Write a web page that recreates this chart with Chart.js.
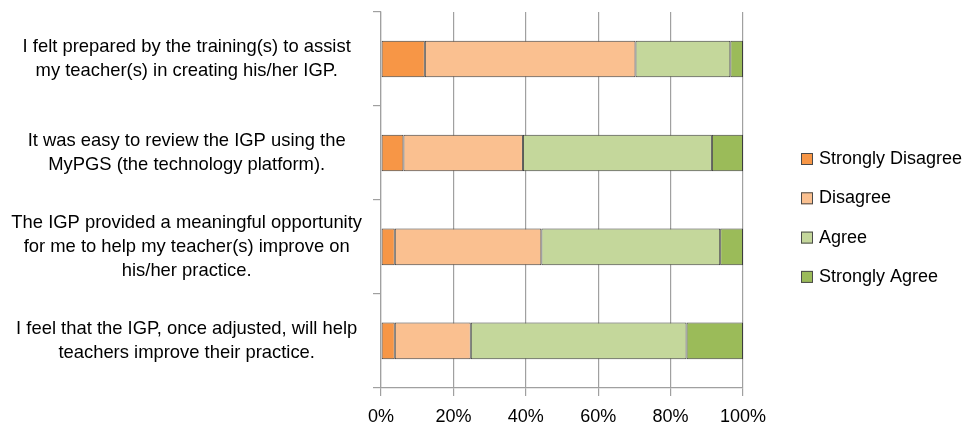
<!DOCTYPE html>
<html>
<head>
<meta charset="utf-8">
<script src="https://cdn.jsdelivr.net/npm/chart.js@4/dist/chart.umd.min.js"></script>
<style>
html,body{margin:0;padding:0;background:#fff;overflow:hidden;}
#wrap{width:968px;height:440px;}
</style>
</head>
<body>
<div id="wrap"><canvas id="c" width="968" height="440"></canvas></div>
<script>
const categories = [
  ["I felt prepared by the training(s) to assist", "my teacher(s) in creating his/her IGP."],
  ["It was easy to review the IGP using the", "MyPGS (the technology platform)."],
  ["The IGP provided a meaningful opportunity", "for me to help my teacher(s) improve on", "his/her practice."],
  ["I feel that the IGP, once adjusted, will help", "teachers improve their practice."]
];
const seriesNames = ["Strongly Disagree", "Disagree", "Agree", "Strongly Agree"];
const stronglyDisagree = [12.1, 6.2, 3.8, 3.8];
const disagree = [58.2, 33.0, 40.5, 21.0];
const agree = [26.2, 52.2, 49.4, 59.6];
const stronglyAgree = [3.5, 8.6, 6.3, 15.6];
const xTicks = [0, 20, 40, 60, 80, 100];

const colors = ["#F79646", "#FAC090", "#C4D79B", "#9BBB59"];
const FONT = "'Liberation Sans', Arial, sans-serif";

const sideLegend = {
  id: 'sideLegend',
  afterDraw(chart) {
    const ctx = chart.ctx;
    ctx.save();
    ctx.font = "18px " + FONT;
    ctx.textBaseline = 'middle';
    ctx.textAlign = 'left';
    chart.data.datasets.forEach((ds, i) => {
      const y = 159 + i * 39.3;
      ctx.fillStyle = ds.backgroundColor;
      ctx.fillRect(801, y - 6, 12, 12);
      ctx.strokeStyle = '#4a4a4a';
      ctx.lineWidth = 1;
      ctx.strokeRect(801.5, y - 5.5, 11, 11);
      ctx.fillStyle = '#000';
      ctx.fillText(ds.label, 819, y);
    });
    ctx.restore();
  }
};

const seriesValues = [stronglyDisagree, disagree, agree, stronglyAgree];

new Chart(document.getElementById('c'), {
  type: 'bar',
  data: {
    labels: categories,
    datasets: seriesNames.map((n, i) => ({
      label: n,
      data: seriesValues[i],
      backgroundColor: colors[i],
      borderColor: '#3c3c3c',
      borderWidth: 1,
      borderSkipped: false,
      categoryPercentage: 1,
      barPercentage: 0.39
    }))
  },
  options: {
    indexAxis: 'y',
    responsive: false,
    animation: false,
    layout: { padding: { top: 12, bottom: 2.5, left: 0, right: 225 } },
    plugins: { legend: { display: false }, tooltip: { enabled: false } },
    scales: {
      x: {
        stacked: true,
        min: 0, max: 100,
        afterBuildTicks(scale) { scale.ticks = xTicks.map(v => ({ value: v })); },
        ticks: {
          callback: v => v + '%',
          font: { family: FONT, size: 18 },
          color: '#000',
          padding: 10,
          maxRotation: 0
        },
        grid: { color: '#a0a0a0', lineWidth: 1.2, tickLength: 8, drawOnChartArea: true },
        border: { display: true, color: '#a0a0a0', width: 1.2 }
      },
      y: {
        stacked: true,
        afterFit(scale) { scale.width = 381; scale.paddingTop = 0; scale.paddingBottom = 0; },
        ticks: {
          font: { family: FONT, size: 18.4, lineHeight: 1.33 },
          color: '#000',
          crossAlign: 'center',
          padding: 11
        },
        grid: { color: '#a0a0a0', lineWidth: 1.2, tickLength: 8, drawOnChartArea: false, offset: true },
        border: { display: true, color: '#a0a0a0', width: 1.2 }
      }
    }
  },
  plugins: [sideLegend]
});
</script>
</body>
</html>
